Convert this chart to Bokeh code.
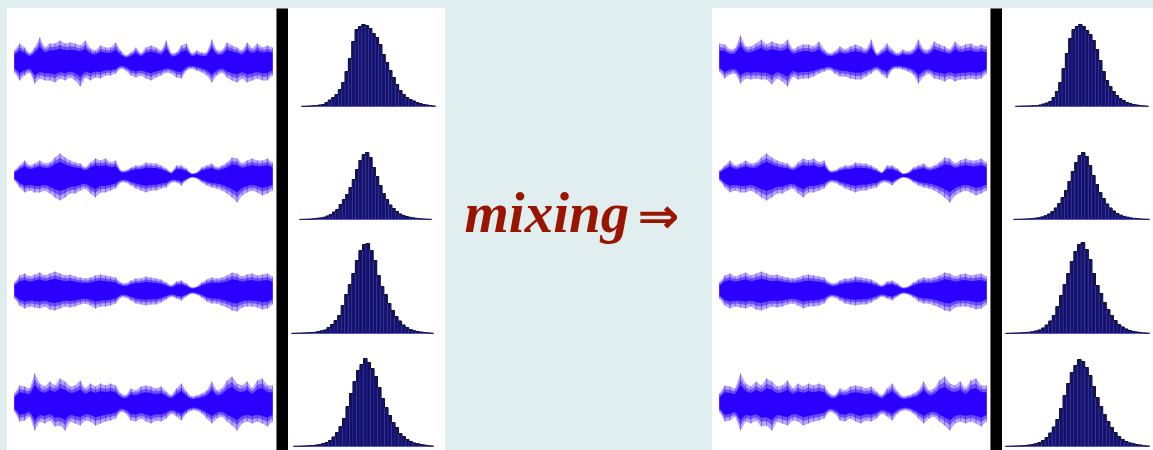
from bokeh.plotting import figure
from bokeh.layouts import row, column
from bokeh.models import Range1d, Spacer
from bokeh.core.properties import value
from bokeh.embed import file_html
from bokeh.resources import INLINE
import numpy as np

# ---- signal envelopes (upper / lower peak amplitude per time sample) ----
src1_up = [11, 18, 14, 8, 14, 24, 14, 18, 18, 21, 18, 19, 18, 16, 21, 13, 11, 16, 14, 14, 19, 11, 6, 9, 14, 8,
           14, 16, 14, 11, 21, 8, 9, 16, 18, 8, 11, 9, 9, 22, 11, 11, 19, 16, 14, 11, 19, 13, 18, 14, 16, 14]
src1_lo = [11, 19, 14, 11, 22, 17, 19, 19, 21, 17, 19, 16, 19, 25, 16, 19, 16, 17, 14, 14, 12, 7, 9, 14, 16, 14,
           17, 19, 16, 14, 11, 12, 16, 17, 9, 7, 9, 11, 14, 21, 14, 11, 16, 19, 21, 17, 21, 19, 17, 19, 19, 14]
src2_up = [5, 10, 15, 10, 12, 15, 12, 13, 18, 22, 18, 15, 13, 12, 8, 13, 17, 15, 17, 13, 15, 5, 5, 8, 10, 10,
           13, 12, 12, 10, 7, 3, 10, 10, 7, 2, 3, 8, 10, 12, 8, 10, 13, 18, 17, 12, 15, 17, 15, 15, 17, 13]
src2_lo = [5, 12, 17, 15, 17, 17, 15, 18, 22, 25, 22, 18, 18, 15, 13, 18, 22, 17, 17, 15, 13, 7, 7, 10, 13, 15,
           17, 15, 15, 13, 12, 7, 7, 10, 5, 2, 3, 7, 10, 12, 13, 15, 18, 22, 27, 20, 17, 15, 17, 20, 18, 15]
src3_up = [8, 15, 17, 14, 16, 18, 15, 17, 19, 17, 15, 16, 14, 13, 12, 13, 15, 16, 15, 14, 13, 8, 7, 10, 12, 12,
           14, 13, 12, 11, 8, 5, 9, 10, 7, 3, 4, 8, 11, 13, 12, 13, 15, 18, 17, 14, 16, 17, 15, 16, 17, 14]
src3_lo = [8, 15, 18, 16, 17, 18, 16, 19, 20, 18, 16, 17, 16, 14, 13, 15, 18, 16, 16, 15, 13, 7, 7, 10, 13, 14,
           15, 14, 14, 12, 9, 6, 8, 10, 6, 3, 4, 7, 11, 13, 13, 15, 17, 20, 21, 17, 16, 16, 17, 19, 18, 14]
src4_up = [10, 18, 17, 15, 30, 20, 17, 22, 18, 25, 22, 17, 18, 23, 15, 20, 17, 20, 18, 20, 18, 10, 8, 15, 13, 17,
           18, 17, 15, 17, 12, 8, 15, 20, 12, 7, 8, 10, 13, 22, 13, 15, 23, 27, 20, 18, 22, 15, 23, 25, 18, 18]
src4_lo = [8, 18, 17, 13, 27, 18, 20, 17, 23, 22, 27, 18, 20, 22, 17, 18, 22, 20, 18, 17, 15, 8, 10, 17, 18, 15,
           18, 20, 17, 18, 15, 10, 13, 17, 10, 7, 7, 10, 15, 20, 15, 13, 18, 22, 27, 20, 18, 20, 18, 20, 23, 18]

mix1_up = [18, 17, 12, 13, 26, 15, 15, 18, 22, 17, 20, 18, 17, 22, 12, 15, 17, 17, 15, 20, 12, 8, 10, 15, 12, 15,
           17, 15, 12, 22, 8, 12, 18, 12, 8, 12, 10, 12, 22, 12, 12, 20, 17, 15, 12, 20, 15, 17, 18, 15, 17, 15]
mix1_lo = [10, 17, 13, 12, 22, 17, 18, 17, 18, 18, 23, 17, 20, 25, 15, 18, 17, 17, 15, 12, 10, 8, 12, 15, 15, 17,
           18, 18, 15, 12, 8, 13, 17, 8, 7, 8, 10, 13, 22, 15, 12, 17, 18, 20, 17, 20, 18, 18, 17, 18, 17, 12]
mix2_up = [5, 10, 15, 10, 12, 15, 12, 13, 18, 22, 18, 15, 13, 12, 8, 13, 17, 15, 17, 13, 15, 5, 5, 8, 10, 10,
           13, 12, 12, 10, 7, 3, 10, 10, 7, 2, 3, 8, 10, 12, 8, 10, 13, 18, 17, 12, 15, 17, 15, 15, 17, 13]
mix2_lo = [5, 12, 17, 15, 17, 17, 15, 18, 22, 25, 22, 18, 18, 15, 13, 18, 22, 17, 17, 15, 13, 7, 7, 10, 13, 15,
           17, 15, 15, 13, 12, 7, 7, 10, 5, 2, 3, 7, 10, 12, 13, 15, 18, 22, 27, 20, 17, 15, 17, 20, 18, 15]
mix3_up = [8, 15, 17, 14, 16, 18, 15, 17, 19, 17, 15, 16, 14, 13, 12, 13, 15, 16, 15, 14, 13, 8, 7, 10, 12, 12,
           14, 13, 12, 11, 8, 5, 9, 10, 7, 3, 4, 8, 11, 13, 12, 13, 15, 18, 17, 14, 16, 17, 15, 16, 17, 14]
mix3_lo = [8, 15, 18, 16, 17, 18, 16, 19, 20, 18, 16, 17, 16, 14, 13, 15, 18, 16, 16, 15, 13, 7, 7, 10, 13, 14,
           15, 14, 14, 12, 9, 6, 8, 10, 6, 3, 4, 7, 11, 13, 13, 15, 17, 20, 21, 17, 16, 16, 17, 19, 18, 14]
mix4_up = [10, 18, 17, 15, 30, 20, 17, 22, 18, 25, 22, 17, 18, 23, 15, 20, 17, 20, 18, 20, 18, 10, 8, 15, 13, 17,
           18, 17, 15, 17, 12, 8, 15, 20, 12, 7, 8, 10, 13, 22, 13, 15, 23, 27, 20, 18, 22, 15, 23, 25, 18, 18]
mix4_lo = [8, 18, 17, 13, 27, 18, 20, 17, 23, 22, 27, 18, 20, 22, 17, 18, 22, 20, 18, 17, 15, 8, 10, 17, 18, 15,
           18, 20, 17, 18, 15, 10, 13, 17, 10, 7, 7, 10, 15, 20, 15, 13, 18, 22, 27, 20, 18, 20, 18, 20, 23, 18]

# ---- amplitude histograms (40 bins each) ----
src1_hist = [0.2, 0.3, 0.5, 0.7, 1.0, 1.5, 2, 4, 6.5, 9, 12, 17, 24, 35, 48, 65, 77, 80, 82, 81,
             78, 73, 69, 62, 52, 44, 36, 29, 22, 16, 12, 9, 7, 5.5, 4, 3, 2, 1.5, 1, 0.5]
src2_hist = [0.1, 0.2, 0.3, 0.5, 0.8, 1.2, 1.6, 2.2, 3.5, 5, 7.5, 10, 15, 20, 25, 32, 40, 50, 59, 65,
             67, 62, 52, 43, 34, 26, 20, 14.5, 11, 8, 5.5, 4, 3, 2.2, 1.6, 1.1, 0.8, 0.5, 0.3, 0.2]
src3_hist = [0.2, 0.3, 0.4, 0.5, 0.7, 0.9, 1.1, 1.8, 2.6, 3.5, 6, 9, 13, 18, 28, 39, 49, 60, 73, 83,
             89, 90, 83, 73, 58, 47, 39, 30, 23, 17, 12.5, 8.5, 6, 4, 2.8, 2, 1.4, 1, 0.6, 0.3]
src4_hist = [0.2, 0.3, 0.4, 0.6, 0.8, 1, 1.4, 2, 2.8, 4, 6, 9.5, 14, 20, 28, 40, 53, 65, 76, 82,
             88, 84, 78, 70, 59, 48, 39, 31, 24, 19, 13, 10, 7, 5, 3.5, 2.8, 2, 1.4, 0.8, 0.5]
mix1_hist = [0.2, 0.3, 0.4, 0.5, 0.6, 0.8, 1, 1.5, 2.5, 3.5, 5, 9, 15, 24, 38, 53, 68, 77, 80, 82,
             80, 76, 72, 66, 57, 46, 35, 26, 20, 15, 11, 8, 6, 4, 3, 2, 1.5, 1, 0.6, 0.3]
mix2_hist = [0.1, 0.2, 0.3, 0.4, 0.6, 0.9, 1.3, 1.8, 2.6, 3.8, 5.5, 8, 11.5, 16, 22, 29, 38, 48, 57, 64,
             67, 63, 54, 44, 35, 27, 21, 15.5, 11.5, 8.5, 6, 4.3, 3.1, 2.3, 1.6, 1.1, 0.8, 0.5, 0.3, 0.2]
mix3_hist = [0.2, 0.3, 0.4, 0.5, 0.7, 0.9, 1.2, 1.7, 2.5, 3.5, 5.5, 8.5, 12.5, 18, 27, 38, 49, 60, 72, 82,
             89, 91, 84, 74, 60, 48, 40, 31, 24, 18, 13, 9, 6.5, 4.5, 3, 2.1, 1.5, 1, 0.6, 0.3]
mix4_hist = [0.2, 0.3, 0.4, 0.6, 0.8, 1, 1.4, 2, 2.8, 4, 6, 9, 13.5, 19.5, 27, 38, 51, 63, 74, 81,
             87, 85, 79, 71, 60, 49, 40, 32, 25, 19, 14, 10, 7, 5, 3.6, 2.8, 2, 1.4, 0.8, 0.5]

mixing_label = "mixing"
arrow_label = "\u21d2"

# ---- styling / layout constants ----
BG = "#e0eef0"
WAVE = "#2b00ff"
BAR_FILL = "#15125e"
BAR_LINE = "#2a2ad8"
TEXT_RED = "#9a1500"

ROW_H = [110, 114, 114, 104]          # height of each of the four rows
WAVE_MID = [53, 57, 58, 57]           # waveform centre line, from row top
HIST_BASE = [98, 101, 101, 100]       # histogram baseline, from row top

# horizontal placement (left pad, right pad) inside each figure
LEFT_WAVE_W, RIGHT_WAVE_W = 269, 278
WAVE_PAD = (7, 4)
LEFT_HIST_W, RIGHT_HIST_W = 157, 151
LEFT_HIST_PAD = [(13, 10), (11, 14), (3, 12), (5, 12)]
RIGHT_HIST_PAD = [(13, 5), (11, 4), (3, 4), (3, 4)]


def bare(w, h, bg="white"):
    p = figure(width=w, height=h, output_backend="svg", toolbar_location=None,
               min_border=0, background_fill_color=bg, border_fill_color=bg,
               outline_line_color=None)
    p.axis.visible = False
    p.grid.visible = False
    return p


def wave_fig(up, lo, w, h, mid):
    up = np.asarray(up, float)
    lo = np.asarray(lo, float)
    n = len(up)
    x = np.arange(n)
    s = (w - WAVE_PAD[0] - WAVE_PAD[1]) / (n - 1)
    p = bare(w, h)
    p.x_range = Range1d(-WAVE_PAD[0] / s, (n - 1) + WAVE_PAD[1] / s)
    p.y_range = Range1d(-(h - mid), mid)
    # faint outer spikes, then the dense body of the waveform
    p.varea(x=x, y1=-lo, y2=up, fill_color=WAVE, fill_alpha=0.35)
    p.segment(x0=x, y0=-lo, x1=x, y1=up, line_color=WAVE, line_alpha=0.45, line_width=1)
    p.varea(x=x, y1=-lo * 0.8, y2=up * 0.8, fill_color=WAVE, fill_alpha=0.5)
    p.varea(x=x, y1=-lo * 0.62, y2=up * 0.62, fill_color=WAVE, fill_alpha=1.0)
    return p


def hist_fig(counts, w, h, base, pad):
    counts = np.asarray(counts, float)
    n = len(counts)
    s = (w - pad[0] - pad[1]) / n
    p = bare(w, h)
    p.x_range = Range1d(-pad[0] / s, n + pad[1] / s)
    p.y_range = Range1d(-(h - base), base)
    edges = np.arange(n + 1)
    p.quad(left=edges[:-1], right=edges[1:], bottom=0, top=counts,
           fill_color=BAR_FILL, line_color=BAR_LINE, line_width=0.6, line_alpha=0.8)
    p.step(x=edges, y=np.append(counts, counts[-1]), mode="after",
           line_color="#101030", line_width=1)
    return p


def black_bar(h):
    return bare(12, h, bg="black")


left_waves = [(src1_up, src1_lo), (src2_up, src2_lo), (src3_up, src3_lo), (src4_up, src4_lo)]
right_waves = [(mix1_up, mix1_lo), (mix2_up, mix2_lo), (mix3_up, mix3_lo), (mix4_up, mix4_lo)]
left_hists = [src1_hist, src2_hist, src3_hist, src4_hist]
right_hists = [mix1_hist, mix2_hist, mix3_hist, mix4_hist]

panel_h = sum(ROW_H)
WHITE = {"background-color": "white"}


def panel(waves, hists, wave_w, hist_w, hist_pads):
    wcol = column([wave_fig(u, l, wave_w, ROW_H[i], WAVE_MID[i]) for i, (u, l) in enumerate(waves)],
                  spacing=0, styles=WHITE)
    hcol = column([hist_fig(c, hist_w, ROW_H[i], HIST_BASE[i], hist_pads[i]) for i, c in enumerate(hists)],
                  spacing=0, styles=WHITE)
    return column([Spacer(width=wave_w + 12 + hist_w, height=8),
                   row([wcol, black_bar(panel_h), hcol], spacing=0)], spacing=0)


# middle caption
mid = bare(267, 450, bg=BG)
mid.x_range = Range1d(0, 267)
mid.y_range = Range1d(450, 0)
mid.text(x=[19], y=[212], text=[mixing_label], text_color=TEXT_RED,
         text_font=value("Liberation Serif"), text_font_style="bold italic",
         text_font_size="57px", text_baseline="alphabetic", text_align="left")
mid.text(x=[192], y=[215], text=[arrow_label], text_color=TEXT_RED,
         text_font=value("DejaVu Sans"), text_font_style="bold",
         text_font_size="50px", text_baseline="alphabetic", text_align="left")

root = row([Spacer(width=7, height=450),
            panel(left_waves, left_hists, LEFT_WAVE_W, LEFT_HIST_W, LEFT_HIST_PAD),
            mid,
            panel(right_waves, right_hists, RIGHT_WAVE_W, RIGHT_HIST_W, RIGHT_HIST_PAD)],
           spacing=0, width=1153, height=450, styles={"background-color": BG})

open("out.html", "w").write(file_html(root, INLINE))
